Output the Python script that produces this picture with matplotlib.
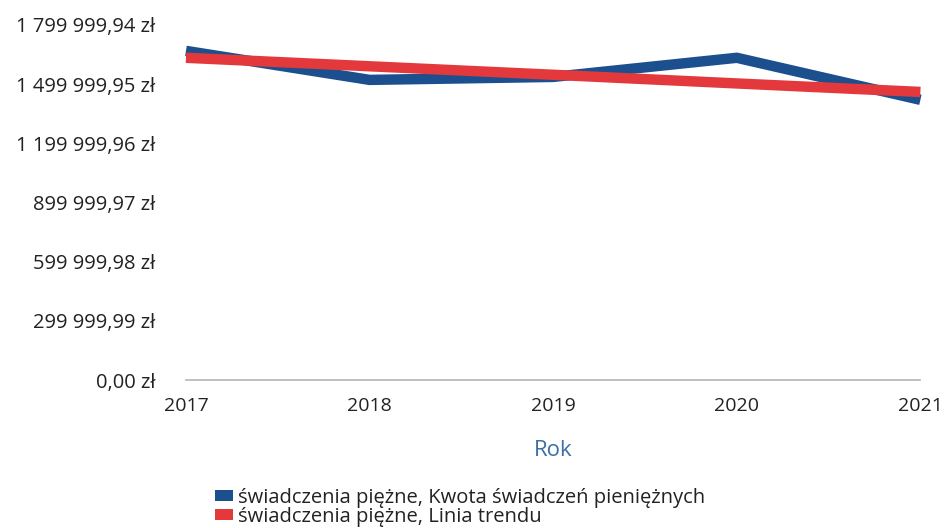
import matplotlib.pyplot as plt
from matplotlib.patches import Patch

plt.rcParams['font.family'] = ['Open Sans', 'DejaVu Sans']

# Data
years = [2017, 2018, 2019, 2020, 2021]
kwota = [1668000, 1521000, 1536000, 1633000, 1420000]
trend = [1633000, 1590000, 1547000, 1503000, 1460000]

y_ticks = [0.0, 299999.99, 599999.98, 899999.97, 1199999.96, 1499999.95, 1799999.94]
y_labels = ["0,00 zł", "299 999,99 zł", "599 999,98 zł", "899 999,97 zł",
            "1 199 999,96 zł", "1 499 999,95 zł", "1 799 999,94 zł"]

blue = '#1c4f8e'
red = '#e3393d'
text_col = '#222222'

fig = plt.figure(figsize=(9.44, 5.28), dpi=100)
ax = fig.add_axes([0.197, 0.28, 0.778, 0.673])

ax.plot(years, kwota, color=blue, linewidth=7.5, solid_capstyle='butt',
        solid_joinstyle='miter', clip_on=False, zorder=3)
ax.plot(years, trend, color=red, linewidth=7.5, solid_capstyle='butt',
        clip_on=False, zorder=4)

ax.set_xlim(2017, 2021)
ax.set_ylim(0, 1799999.94)
ax.set_xticks(years)
ax.set_xticklabels([str(y) for y in years])
ax.set_yticks(y_ticks)
ax.set_yticklabels(y_labels)

for s in ['top', 'right', 'left']:
    ax.spines[s].set_visible(False)
ax.spines['bottom'].set_color('#b4b4bc')
ax.spines['bottom'].set_linewidth(1.2)

ax.tick_params(axis='both', length=0, colors=text_col)
ax.tick_params(axis='y', pad=22, labelsize=14.5)
ax.tick_params(axis='x', pad=12, labelsize=14)

ax.set_xlabel("Rok", fontsize=16, color='#3a6ea5', labelpad=18)

handles = [Patch(facecolor=blue, label="świadczenia piężne, Kwota świadczeń pieniężnych"),
           Patch(facecolor=red, label="świadczenia piężne, Linia trendu")]
fig.legend(handles=handles, loc='upper left', bbox_to_anchor=(0.217, 0.095),
           frameon=False, fontsize=14.5, handlelength=0.9, handleheight=0.45,
           handletextpad=0.25, labelspacing=-0.05, borderpad=0, labelcolor=text_col)

fig.savefig('out.png', dpi=100)
